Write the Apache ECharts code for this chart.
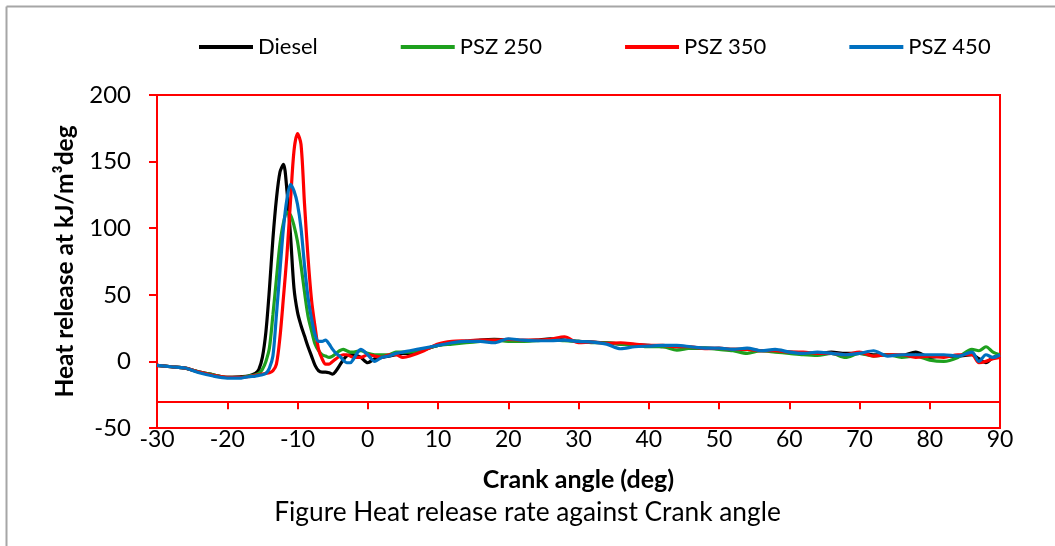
<!DOCTYPE html>
<html>
<head>
<meta charset="utf-8">
<script src="https://cdn.jsdelivr.net/npm/echarts@6/dist/echarts.min.js"></script>
<style>
html,body{margin:0;padding:0;background:#fff;}
#chart{width:1055px;height:546px;}
</style>
</head>
<body>
<div id="chart"></div>
<script>
const angles = [-30,-28,-26,-24,-22,-20,-18,-17,
  -16,-15.5,-15,-14.5,-14,-13.5,-13,-12.5,-12,-11.5,-11,-10.5,-10,-9.5,-9,-8.5,-8,-7.5,-7,-6.5,-6,-5.5,-5,-4.5,-4,-3.5,-3,-2.5,-2,
  -1,0,1,2,3,4,5,6,
  8,10,12,14,16,18,20,22,24,26,28,30,32,34,36,38,40,42,44,46,48,50,52,54,56,58,60,62,64,66,68,70,72,74,76,78,80,82,84,
  86,87,88,89,90];

const diesel = [-3,-4,-5,-8,-10,-12,-11.5,-11,
  -9,-6,3,22,54,92,122,142,148,128,95,55,37,27,19,11,4,-3,-7,-8,-8,-8.5,-9.5,-7,-3,1,4,5,5,
  3,-1,2,3,4,5,6,6,
  9,12,14,15,16,16.5,16,15.5,16,17,16,15,14.5,14,13,12.5,12,11,11,10,10,9.5,9,9,8,8,7,6.5,6,7,6,6,5,5,4.5,7,3,4,4,
  5,2,-1,3,4];

const psz250 = [-3,-4,-5,-8,-10,-12,-12,-11,
  -10,-9,-6,0,10,35,62,88,104,112,110,102,90,72,52,34,23,13,8,5,4,3,4,6,8,9,8,7,7,
  8,6,5,5,5,7,7,7,
  9,12,13,14,15,16,15,15,15.5,16,15.5,15,14,14,13,12,11,11,8.5,10,10,9,8,6,8,7,6,5,4.5,6,3,6,4,5,3,4,1,0,3,
  9,8,11,7,5];

const psz350 = [-3,-4,-5,-8,-10.5,-12,-12,-11.5,
  -10.5,-10,-9.5,-9,-8.5,-7,-2,18,48,80,120,158,171,163,118,78,46,26,9,2,-2,-2,0,2,4,5,5,4,3,
  3,5,4,3,5,5,3,4,
  8,13,15,15.5,16,16,16.5,16,16,16.5,18.5,14,14.5,13.5,14,13,12,12,11,11,9.5,10,9,9,8,8,7,7,6,6,5,7,4,5,5,3,4,3,5,
  5,-1,0,2,3];

const psz450 = [-3,-4,-5,-8.5,-11,-12.5,-12.5,-11.5,
  -11,-10.5,-10,-9,-5,4,35,68,100,122,133,128,118,100,72,48,32,20,15,15,16,13,9,6,4,1,-1,-1,2,
  9,5,0,3,4,6,7,8,
  10,12,14,15,15,14,17,16,15.5,15.5,16,15,14.5,13,9.5,11,11.5,12,12,11,10,10,9,10,8,9,7,6,7,6,5,6,8,4,5,5,5,5,4,
  7,0,5,3,5];

const seriesNames = ['Diesel','PSZ 250','PSZ 350','PSZ 450'];
const seriesValues = [diesel, psz250, psz350, psz450];
const seriesColors = ['#000000','#1ea01e','#ff0000','#0070c0'];
const xTicks = {min:-30, max:90, interval:10};
const yTicks = {min:-50, max:200, interval:50};

const FONT = 'Lato';
const chart = echarts.init(document.getElementById('chart'), null, {renderer:'canvas'});

const series = seriesNames.map((name, i) => ({
  name: name,
  type: 'line',
  xAxisIndex: 0,
  yAxisIndex: 0,
  data: angles.map((a, j) => [a, seriesValues[i][j]]),
  smooth: 0.3,
  showSymbol: false,
  symbol: 'none',
  lineStyle: {color: seriesColors[i], width: 3.2},
  itemStyle: {color: seriesColors[i]},
  z: 2 + i
}));

chart.setOption({
  animation: false,
  backgroundColor: '#ffffff',
  textStyle: {fontFamily: FONT},
  grid: {left: 157, right: 55, top: 95, bottom: 118, show: true, borderColor: '#ff0000', borderWidth: 2, backgroundColor: 'transparent', containLabel: false},
  legend: {
    data: seriesNames,
    left: 194, top: 31,
    itemGap: 83, itemWidth: 54, itemHeight: 4,
    icon: 'rect',
    textStyle: {fontFamily: FONT, fontSize: 22, color: '#000'}
  },
  title: {
    text: 'Figure Heat release rate against Crank angle',
    left: 'center', top: 495,
    textStyle: {fontFamily: FONT, fontSize: 26.3, fontWeight: 'normal', color: '#000'}
  },
  xAxis: [
    {
      type: 'value', min: xTicks.min, max: xTicks.max, interval: xTicks.interval,
      position: 'bottom',
      axisLine: {show: false},
      axisTick: {show: false},
      splitLine: {show: false},
      axisLabel: {color: '#000', fontSize: 23, fontFamily: FONT, margin: 0},
      name: 'Crank angle (deg)', nameLocation: 'middle', nameGap: 39,
      nameTextStyle: {fontFamily: FONT, fontSize: 25, fontWeight: 'bold', color: '#000'}
    },
    {
      type: 'value', min: xTicks.min, max: xTicks.max, interval: xTicks.interval,
      position: 'bottom', offset: -26.7,
      axisLine: {show: true, onZero: false, lineStyle: {color: '#ff0000', width: 2}},
      axisTick: {show: true, length: 8, lineStyle: {color: '#ff0000', width: 2}},
      splitLine: {show: false},
      axisLabel: {show: false}
    }
  ],
  yAxis: [
    {
      type: 'value', min: yTicks.min, max: yTicks.max, interval: yTicks.interval,
      axisLine: {show: true, onZero: false, lineStyle: {color: '#ff0000', width: 2}},
      axisTick: {show: true, length: 8, lineStyle: {color: '#ff0000', width: 2}},
      splitLine: {show: false},
      axisLabel: {color: '#000', fontSize: 24, fontFamily: FONT, margin: 26},
      name: 'Heat release at kJ/m³deg', nameLocation: 'middle', nameGap: 79, nameRotate: 90,
      nameTextStyle: {fontFamily: FONT, fontSize: 24.5, fontWeight: 'bold', color: '#000'}
    }
  ],
  graphic: [
    {type: 'line', silent: true, shape: {x1: 6.5, y1: 6.5, x2: 1055, y2: 6.5}, style: {stroke: '#a6a6a6', lineWidth: 2}},
    {type: 'line', silent: true, shape: {x1: 6.5, y1: 6.5, x2: 6.5, y2: 546}, style: {stroke: '#a6a6a6', lineWidth: 2}}
  ],
  series: series
});
</script>
</body>
</html>
